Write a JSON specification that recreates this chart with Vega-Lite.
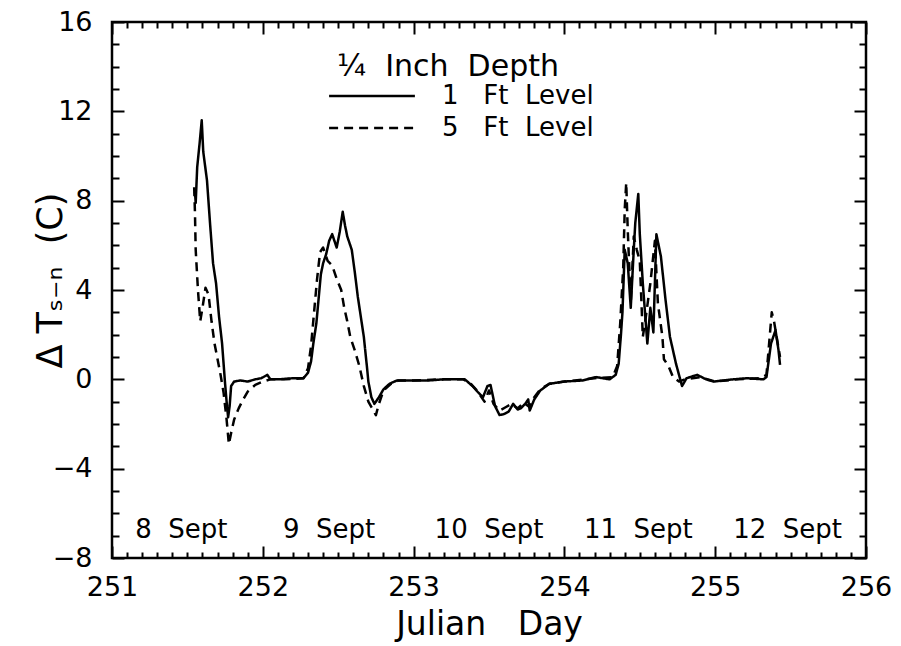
{
  "$schema": "https://vega.github.io/schema/vega-lite/v6.json",
  "width": 754,
  "height": 536,
  "autosize": {"type": "none"},
  "padding": {"left": 112, "top": 22, "right": 35, "bottom": 88},
  "background": "white",
  "config": {
    "view": {"stroke": "black", "strokeWidth": 2.5},
    "font": "DejaVu Sans",
    "axis": {
      "grid": false,
      "domain": false,
      "tickColor": "black",
      "tickWidth": 2,
      "labelColor": "black",
      "labelFont": "DejaVu Sans",
      "labelOverlap": false,
      "labelFlush": false,
      "labelBound": false,
      "titleColor": "black",
      "titleFont": "DejaVu Sans",
      "titleFontWeight": "normal"
    }
  },
  "datasets": {
    "series": [
      {"day": 251.550, "v": 8.4, "level": "1 Ft Level"},
      {"day": 251.555, "v": 7.9, "level": "1 Ft Level"},
      {"day": 251.565, "v": 9.5, "level": "1 Ft Level"},
      {"day": 251.580, "v": 10.5, "level": "1 Ft Level"},
      {"day": 251.595, "v": 11.6, "level": "1 Ft Level"},
      {"day": 251.605, "v": 10.2, "level": "1 Ft Level"},
      {"day": 251.630, "v": 8.9, "level": "1 Ft Level"},
      {"day": 251.650, "v": 7.0, "level": "1 Ft Level"},
      {"day": 251.670, "v": 5.2, "level": "1 Ft Level"},
      {"day": 251.690, "v": 4.3, "level": "1 Ft Level"},
      {"day": 251.710, "v": 2.8, "level": "1 Ft Level"},
      {"day": 251.730, "v": 1.6, "level": "1 Ft Level"},
      {"day": 251.750, "v": -0.2, "level": "1 Ft Level"},
      {"day": 251.760, "v": -1.0, "level": "1 Ft Level"},
      {"day": 251.770, "v": -1.7, "level": "1 Ft Level"},
      {"day": 251.780, "v": -1.2, "level": "1 Ft Level"},
      {"day": 251.790, "v": -0.3, "level": "1 Ft Level"},
      {"day": 251.810, "v": -0.1, "level": "1 Ft Level"},
      {"day": 251.850, "v": -0.05, "level": "1 Ft Level"},
      {"day": 251.900, "v": -0.1, "level": "1 Ft Level"},
      {"day": 251.950, "v": 0.0, "level": "1 Ft Level"},
      {"day": 251.990, "v": 0.05, "level": "1 Ft Level"},
      {"day": 252.030, "v": 0.2, "level": "1 Ft Level"},
      {"day": 252.050, "v": 0.0, "level": "1 Ft Level"},
      {"day": 252.110, "v": 0.0, "level": "1 Ft Level"},
      {"day": 252.200, "v": 0.05, "level": "1 Ft Level"},
      {"day": 252.270, "v": 0.05, "level": "1 Ft Level"},
      {"day": 252.300, "v": 0.3, "level": "1 Ft Level"},
      {"day": 252.320, "v": 0.8, "level": "1 Ft Level"},
      {"day": 252.335, "v": 1.6, "level": "1 Ft Level"},
      {"day": 252.355, "v": 2.5, "level": "1 Ft Level"},
      {"day": 252.370, "v": 3.6, "level": "1 Ft Level"},
      {"day": 252.385, "v": 4.7, "level": "1 Ft Level"},
      {"day": 252.400, "v": 5.2, "level": "1 Ft Level"},
      {"day": 252.420, "v": 5.6, "level": "1 Ft Level"},
      {"day": 252.440, "v": 6.2, "level": "1 Ft Level"},
      {"day": 252.460, "v": 6.5, "level": "1 Ft Level"},
      {"day": 252.490, "v": 5.9, "level": "1 Ft Level"},
      {"day": 252.510, "v": 6.6, "level": "1 Ft Level"},
      {"day": 252.530, "v": 7.5, "level": "1 Ft Level"},
      {"day": 252.545, "v": 6.9, "level": "1 Ft Level"},
      {"day": 252.560, "v": 6.4, "level": "1 Ft Level"},
      {"day": 252.590, "v": 5.8, "level": "1 Ft Level"},
      {"day": 252.610, "v": 4.8, "level": "1 Ft Level"},
      {"day": 252.630, "v": 3.7, "level": "1 Ft Level"},
      {"day": 252.650, "v": 2.8, "level": "1 Ft Level"},
      {"day": 252.670, "v": 1.9, "level": "1 Ft Level"},
      {"day": 252.690, "v": 0.6, "level": "1 Ft Level"},
      {"day": 252.700, "v": -0.1, "level": "1 Ft Level"},
      {"day": 252.720, "v": -0.8, "level": "1 Ft Level"},
      {"day": 252.740, "v": -1.1, "level": "1 Ft Level"},
      {"day": 252.770, "v": -0.8, "level": "1 Ft Level"},
      {"day": 252.800, "v": -0.45, "level": "1 Ft Level"},
      {"day": 252.840, "v": -0.2, "level": "1 Ft Level"},
      {"day": 252.890, "v": -0.05, "level": "1 Ft Level"},
      {"day": 253.000, "v": -0.05, "level": "1 Ft Level"},
      {"day": 253.100, "v": -0.05, "level": "1 Ft Level"},
      {"day": 253.200, "v": 0.0, "level": "1 Ft Level"},
      {"day": 253.340, "v": 0.0, "level": "1 Ft Level"},
      {"day": 253.390, "v": -0.3, "level": "1 Ft Level"},
      {"day": 253.430, "v": -0.6, "level": "1 Ft Level"},
      {"day": 253.460, "v": -0.8, "level": "1 Ft Level"},
      {"day": 253.490, "v": -0.3, "level": "1 Ft Level"},
      {"day": 253.510, "v": -0.25, "level": "1 Ft Level"},
      {"day": 253.540, "v": -1.2, "level": "1 Ft Level"},
      {"day": 253.570, "v": -1.6, "level": "1 Ft Level"},
      {"day": 253.600, "v": -1.55, "level": "1 Ft Level"},
      {"day": 253.630, "v": -1.45, "level": "1 Ft Level"},
      {"day": 253.660, "v": -1.1, "level": "1 Ft Level"},
      {"day": 253.690, "v": -1.35, "level": "1 Ft Level"},
      {"day": 253.710, "v": -1.3, "level": "1 Ft Level"},
      {"day": 253.740, "v": -1.1, "level": "1 Ft Level"},
      {"day": 253.760, "v": -0.9, "level": "1 Ft Level"},
      {"day": 253.770, "v": -1.4, "level": "1 Ft Level"},
      {"day": 253.800, "v": -0.9, "level": "1 Ft Level"},
      {"day": 253.840, "v": -0.5, "level": "1 Ft Level"},
      {"day": 253.900, "v": -0.2, "level": "1 Ft Level"},
      {"day": 254.000, "v": -0.1, "level": "1 Ft Level"},
      {"day": 254.120, "v": -0.05, "level": "1 Ft Level"},
      {"day": 254.210, "v": 0.1, "level": "1 Ft Level"},
      {"day": 254.300, "v": 0.0, "level": "1 Ft Level"},
      {"day": 254.340, "v": 0.2, "level": "1 Ft Level"},
      {"day": 254.360, "v": 0.7, "level": "1 Ft Level"},
      {"day": 254.375, "v": 2.0, "level": "1 Ft Level"},
      {"day": 254.385, "v": 3.0, "level": "1 Ft Level"},
      {"day": 254.400, "v": 5.8, "level": "1 Ft Level"},
      {"day": 254.420, "v": 5.2, "level": "1 Ft Level"},
      {"day": 254.440, "v": 3.2, "level": "1 Ft Level"},
      {"day": 254.460, "v": 5.8, "level": "1 Ft Level"},
      {"day": 254.470, "v": 7.0, "level": "1 Ft Level"},
      {"day": 254.490, "v": 8.3, "level": "1 Ft Level"},
      {"day": 254.500, "v": 6.5, "level": "1 Ft Level"},
      {"day": 254.520, "v": 4.3, "level": "1 Ft Level"},
      {"day": 254.550, "v": 1.6, "level": "1 Ft Level"},
      {"day": 254.570, "v": 3.2, "level": "1 Ft Level"},
      {"day": 254.590, "v": 2.1, "level": "1 Ft Level"},
      {"day": 254.610, "v": 6.5, "level": "1 Ft Level"},
      {"day": 254.640, "v": 5.5, "level": "1 Ft Level"},
      {"day": 254.670, "v": 3.6, "level": "1 Ft Level"},
      {"day": 254.700, "v": 1.9, "level": "1 Ft Level"},
      {"day": 254.740, "v": 0.7, "level": "1 Ft Level"},
      {"day": 254.780, "v": -0.3, "level": "1 Ft Level"},
      {"day": 254.810, "v": 0.05, "level": "1 Ft Level"},
      {"day": 254.880, "v": 0.2, "level": "1 Ft Level"},
      {"day": 254.940, "v": 0.0, "level": "1 Ft Level"},
      {"day": 254.990, "v": -0.1, "level": "1 Ft Level"},
      {"day": 255.120, "v": 0.0, "level": "1 Ft Level"},
      {"day": 255.210, "v": 0.05, "level": "1 Ft Level"},
      {"day": 255.320, "v": 0.0, "level": "1 Ft Level"},
      {"day": 255.340, "v": 0.1, "level": "1 Ft Level"},
      {"day": 255.370, "v": 1.6, "level": "1 Ft Level"},
      {"day": 255.400, "v": 2.2, "level": "1 Ft Level"},
      {"day": 255.420, "v": 1.3, "level": "1 Ft Level"},
      {"day": 255.430, "v": 0.65, "level": "1 Ft Level"},

      {"day": 251.545, "v": 8.6, "level": "5 Ft Level"},
      {"day": 251.550, "v": 7.5, "level": "5 Ft Level"},
      {"day": 251.555, "v": 5.8, "level": "5 Ft Level"},
      {"day": 251.570, "v": 4.0, "level": "5 Ft Level"},
      {"day": 251.585, "v": 2.6, "level": "5 Ft Level"},
      {"day": 251.600, "v": 3.2, "level": "5 Ft Level"},
      {"day": 251.620, "v": 4.1, "level": "5 Ft Level"},
      {"day": 251.640, "v": 3.8, "level": "5 Ft Level"},
      {"day": 251.660, "v": 2.6, "level": "5 Ft Level"},
      {"day": 251.680, "v": 1.6, "level": "5 Ft Level"},
      {"day": 251.700, "v": 0.9, "level": "5 Ft Level"},
      {"day": 251.720, "v": 0.2, "level": "5 Ft Level"},
      {"day": 251.740, "v": -0.6, "level": "5 Ft Level"},
      {"day": 251.760, "v": -1.8, "level": "5 Ft Level"},
      {"day": 251.775, "v": -2.9, "level": "5 Ft Level"},
      {"day": 251.790, "v": -2.4, "level": "5 Ft Level"},
      {"day": 251.810, "v": -1.8, "level": "5 Ft Level"},
      {"day": 251.840, "v": -1.3, "level": "5 Ft Level"},
      {"day": 251.870, "v": -0.9, "level": "5 Ft Level"},
      {"day": 251.900, "v": -0.55, "level": "5 Ft Level"},
      {"day": 251.950, "v": -0.25, "level": "5 Ft Level"},
      {"day": 252.000, "v": -0.1, "level": "5 Ft Level"},
      {"day": 252.050, "v": 0.0, "level": "5 Ft Level"},
      {"day": 252.150, "v": 0.0, "level": "5 Ft Level"},
      {"day": 252.270, "v": 0.05, "level": "5 Ft Level"},
      {"day": 252.300, "v": 0.5, "level": "5 Ft Level"},
      {"day": 252.320, "v": 1.5, "level": "5 Ft Level"},
      {"day": 252.340, "v": 3.0, "level": "5 Ft Level"},
      {"day": 252.360, "v": 4.5, "level": "5 Ft Level"},
      {"day": 252.380, "v": 5.7, "level": "5 Ft Level"},
      {"day": 252.400, "v": 5.9, "level": "5 Ft Level"},
      {"day": 252.430, "v": 5.3, "level": "5 Ft Level"},
      {"day": 252.460, "v": 5.1, "level": "5 Ft Level"},
      {"day": 252.490, "v": 4.5, "level": "5 Ft Level"},
      {"day": 252.520, "v": 4.0, "level": "5 Ft Level"},
      {"day": 252.540, "v": 3.2, "level": "5 Ft Level"},
      {"day": 252.560, "v": 2.6, "level": "5 Ft Level"},
      {"day": 252.580, "v": 1.9, "level": "5 Ft Level"},
      {"day": 252.610, "v": 1.3, "level": "5 Ft Level"},
      {"day": 252.640, "v": 0.6, "level": "5 Ft Level"},
      {"day": 252.670, "v": -0.3, "level": "5 Ft Level"},
      {"day": 252.700, "v": -1.0, "level": "5 Ft Level"},
      {"day": 252.750, "v": -1.6, "level": "5 Ft Level"},
      {"day": 252.770, "v": -1.1, "level": "5 Ft Level"},
      {"day": 252.800, "v": -0.5, "level": "5 Ft Level"},
      {"day": 252.850, "v": -0.2, "level": "5 Ft Level"},
      {"day": 252.900, "v": -0.05, "level": "5 Ft Level"},
      {"day": 253.000, "v": -0.05, "level": "5 Ft Level"},
      {"day": 253.200, "v": 0.0, "level": "5 Ft Level"},
      {"day": 253.330, "v": 0.0, "level": "5 Ft Level"},
      {"day": 253.380, "v": -0.2, "level": "5 Ft Level"},
      {"day": 253.420, "v": -0.5, "level": "5 Ft Level"},
      {"day": 253.470, "v": -1.0, "level": "5 Ft Level"},
      {"day": 253.500, "v": -0.5, "level": "5 Ft Level"},
      {"day": 253.530, "v": -1.1, "level": "5 Ft Level"},
      {"day": 253.570, "v": -1.4, "level": "5 Ft Level"},
      {"day": 253.610, "v": -1.25, "level": "5 Ft Level"},
      {"day": 253.650, "v": -1.1, "level": "5 Ft Level"},
      {"day": 253.690, "v": -1.3, "level": "5 Ft Level"},
      {"day": 253.730, "v": -1.05, "level": "5 Ft Level"},
      {"day": 253.770, "v": -1.25, "level": "5 Ft Level"},
      {"day": 253.800, "v": -0.8, "level": "5 Ft Level"},
      {"day": 253.840, "v": -0.45, "level": "5 Ft Level"},
      {"day": 253.900, "v": -0.2, "level": "5 Ft Level"},
      {"day": 254.000, "v": -0.1, "level": "5 Ft Level"},
      {"day": 254.200, "v": 0.05, "level": "5 Ft Level"},
      {"day": 254.320, "v": 0.1, "level": "5 Ft Level"},
      {"day": 254.350, "v": 0.6, "level": "5 Ft Level"},
      {"day": 254.370, "v": 2.5, "level": "5 Ft Level"},
      {"day": 254.390, "v": 5.0, "level": "5 Ft Level"},
      {"day": 254.400, "v": 7.6, "level": "5 Ft Level"},
      {"day": 254.410, "v": 8.8, "level": "5 Ft Level"},
      {"day": 254.420, "v": 6.7, "level": "5 Ft Level"},
      {"day": 254.440, "v": 3.4, "level": "5 Ft Level"},
      {"day": 254.460, "v": 6.4, "level": "5 Ft Level"},
      {"day": 254.480, "v": 5.8, "level": "5 Ft Level"},
      {"day": 254.500, "v": 5.3, "level": "5 Ft Level"},
      {"day": 254.520, "v": 1.9, "level": "5 Ft Level"},
      {"day": 254.540, "v": 2.8, "level": "5 Ft Level"},
      {"day": 254.570, "v": 4.3, "level": "5 Ft Level"},
      {"day": 254.600, "v": 6.2, "level": "5 Ft Level"},
      {"day": 254.620, "v": 3.4, "level": "5 Ft Level"},
      {"day": 254.650, "v": 1.9, "level": "5 Ft Level"},
      {"day": 254.660, "v": 0.9, "level": "5 Ft Level"},
      {"day": 254.690, "v": 0.6, "level": "5 Ft Level"},
      {"day": 254.720, "v": 0.1, "level": "5 Ft Level"},
      {"day": 254.760, "v": -0.1, "level": "5 Ft Level"},
      {"day": 254.800, "v": 0.0, "level": "5 Ft Level"},
      {"day": 254.900, "v": 0.1, "level": "5 Ft Level"},
      {"day": 255.000, "v": -0.1, "level": "5 Ft Level"},
      {"day": 255.150, "v": 0.0, "level": "5 Ft Level"},
      {"day": 255.300, "v": 0.05, "level": "5 Ft Level"},
      {"day": 255.340, "v": 0.2, "level": "5 Ft Level"},
      {"day": 255.365, "v": 2.2, "level": "5 Ft Level"},
      {"day": 255.375, "v": 3.0, "level": "5 Ft Level"},
      {"day": 255.390, "v": 2.6, "level": "5 Ft Level"},
      {"day": 255.410, "v": 1.8, "level": "5 Ft Level"},
      {"day": 255.430, "v": 1.0, "level": "5 Ft Level"}
    ],
    "dates": [
      {"day": 251.46, "v": -6.75, "label": "8\u00a0\u00a0Sept"},
      {"day": 252.44, "v": -6.75, "label": "9\u00a0\u00a0Sept"},
      {"day": 253.50, "v": -6.75, "label": "10\u00a0\u00a0Sept"},
      {"day": 254.49, "v": -6.75, "label": "11\u00a0\u00a0Sept"},
      {"day": 255.48, "v": -6.75, "label": "12\u00a0\u00a0Sept"}
    ]
  },
  "layer": [
    {
      "data": {"name": "series"},
      "mark": {"type": "line", "color": "black", "strokeWidth": 2.5, "strokeJoin": "round"},
      "encoding": {
        "x": {
          "field": "day", "type": "quantitative",
          "scale": {"domain": [251, 256], "nice": false, "zero": false},
          "axis": {
            "orient": "bottom",
            "offset": -12,
            "values": [251, 252, 253, 254, 255, 256],
            "format": "d",
            "tickSize": 12,
            "labelFontSize": 27,
            "labelPadding": 16,
            "title": "Julian\u00a0\u00a0\u00a0Day",
            "titleFontSize": 33,
            "titleBaseline": "alphabetic",
            "titleY": 88
          }
        },
        "y": {
          "field": "v", "type": "quantitative",
          "scale": {"domain": [-8, 16], "nice": false, "zero": false},
          "axis": {
            "orient": "left",
            "offset": -12,
            "values": [-8, -4, 0, 4, 8, 12, 16],
            "format": "d",
            "tickSize": 12,
            "labelFontSize": 27,
            "labelPadding": 20,
            "title": "Δ\u00a0Tₛ₋ₙ\u00a0\u00a0(C)",
            "titleFontSize": 35,
            "titleAngle": 270,
            "titleAlign": "center",
            "titleBaseline": "middle",
            "titleX": -74,
            "titleY": 258
          }
        },
        "strokeDash": {
          "field": "level", "type": "nominal",
          "scale": {"domain": ["1 Ft Level", "5 Ft Level"], "range": [[1, 0], [9, 6]]},
          "legend": {
            "orient": "none",
            "legendX": 225,
            "legendY": 30,
            "padding": 0,
            "title": "¼\u00a0\u00a0Inch\u00a0\u00a0Depth",
            "titleFont": "DejaVu Sans",
            "titleFontSize": 30,
            "titleFontWeight": "normal",
            "titleColor": "black",
            "titleLimit": 0,
            "titlePadding": 1,
            "labelFont": "DejaVu Sans",
            "labelFontSize": 26,
            "labelColor": "black",
            "labelLimit": 0,
            "labelOffset": 79,
            "labelExpr": "replace(replace(datum.label, ' ', '\u00a0\u00a0\u00a0'), ' ', '\u00a0\u00a0')",
            "symbolType": "M-1.9,0H5.9",
            "symbolSize": 484,
            "symbolStrokeWidth": 2.5,
            "symbolStrokeColor": "black",
            "symbolFillColor": "transparent",
            "rowPadding": 6
          }
        }
      }
    },
    {
      "data": {"name": "dates"},
      "mark": {"type": "text", "font": "DejaVu Sans", "fontSize": 26, "color": "black", "baseline": "middle", "align": "center"},
      "encoding": {
        "x": {
          "field": "day", "type": "quantitative",
          "scale": {"domain": [251, 256], "nice": false, "zero": false},
          "axis": {
            "orient": "top",
            "offset": -12,
            "values": [251, 252, 253, 254, 255, 256],
            "tickSize": 12,
            "labels": false,
            "title": null
          }
        },
        "y": {
          "field": "v", "type": "quantitative",
          "scale": {"domain": [-8, 16], "nice": false, "zero": false},
          "axis": {
            "orient": "right",
            "offset": -12,
            "values": [-8, -4, 0, 4, 8, 12, 16],
            "tickSize": 12,
            "labels": false,
            "title": null
          }
        },
        "text": {"field": "label", "type": "nominal"}
      }
    },
    {
      "data": {"name": "dates"},
      "mark": {"type": "text", "opacity": 0},
      "encoding": {
        "x": {
          "field": "day", "type": "quantitative",
          "scale": {"domain": [251, 256], "nice": false, "zero": false},
          "axis": {
            "orient": "bottom",
            "offset": -6,
            "values": [251.1,251.2,251.3,251.4,251.5,251.6,251.7,251.8,251.9,252.1,252.2,252.3,252.4,252.5,252.6,252.7,252.8,252.9,253.1,253.2,253.3,253.4,253.5,253.6,253.7,253.8,253.9,254.1,254.2,254.3,254.4,254.5,254.6,254.7,254.8,254.9,255.1,255.2,255.3,255.4,255.5,255.6,255.7,255.8,255.9],
            "tickSize": 6,
            "labels": false,
            "title": null
          }
        },
        "y": {
          "field": "v", "type": "quantitative",
          "scale": {"domain": [-8, 16], "nice": false, "zero": false},
          "axis": {
            "orient": "left",
            "offset": -7,
            "values": [-7,-6,-5,-3,-2,-1,1,2,3,5,6,7,9,10,11,13,14,15],
            "tickSize": 7,
            "labels": false,
            "title": null
          }
        },
        "text": {"field": "label", "type": "nominal"}
      }
    },
    {
      "data": {"name": "dates"},
      "mark": {"type": "text", "opacity": 0},
      "encoding": {
        "x": {
          "field": "day", "type": "quantitative",
          "scale": {"domain": [251, 256], "nice": false, "zero": false},
          "axis": {
            "orient": "top",
            "offset": -6,
            "values": [251.1,251.2,251.3,251.4,251.5,251.6,251.7,251.8,251.9,252.1,252.2,252.3,252.4,252.5,252.6,252.7,252.8,252.9,253.1,253.2,253.3,253.4,253.5,253.6,253.7,253.8,253.9,254.1,254.2,254.3,254.4,254.5,254.6,254.7,254.8,254.9,255.1,255.2,255.3,255.4,255.5,255.6,255.7,255.8,255.9],
            "tickSize": 6,
            "labels": false,
            "title": null
          }
        },
        "y": {
          "field": "v", "type": "quantitative",
          "scale": {"domain": [-8, 16], "nice": false, "zero": false},
          "axis": {
            "orient": "right",
            "offset": -7,
            "values": [-7,-6,-5,-3,-2,-1,1,2,3,5,6,7,9,10,11,13,14,15],
            "tickSize": 7,
            "labels": false,
            "title": null
          }
        },
        "text": {"field": "label", "type": "nominal"}
      }
    }
  ],
  "resolve": {"axis": {"x": "independent", "y": "independent"}}
}
